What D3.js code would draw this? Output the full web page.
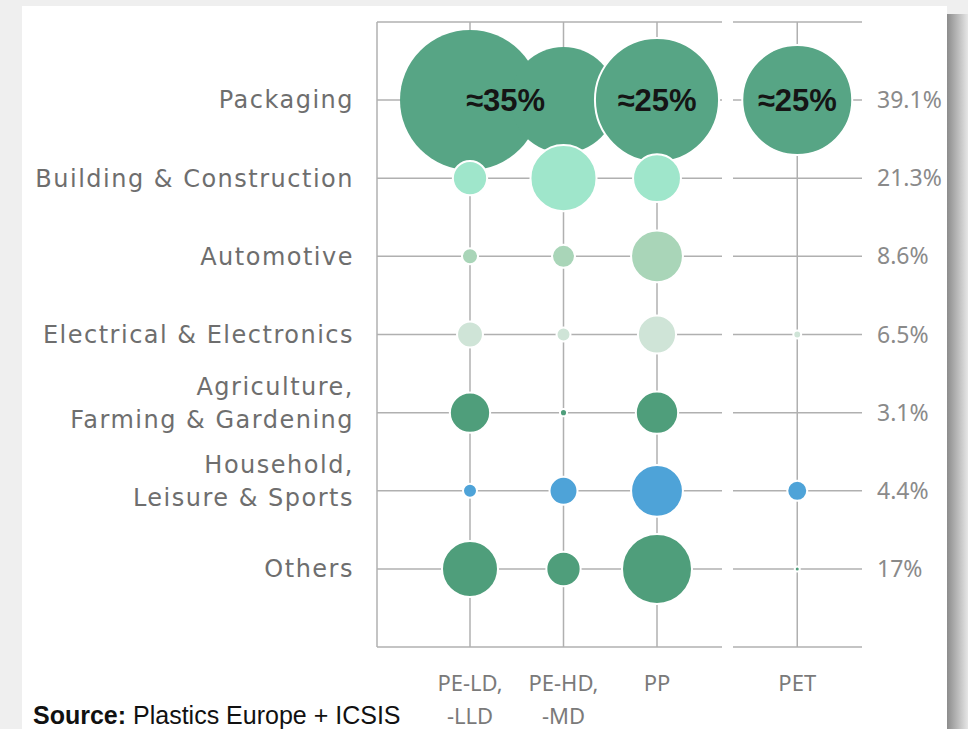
<!DOCTYPE html>
<html>
<head>
<meta charset="utf-8">
<script src="https://cdn.jsdelivr.net/npm/d3@7"></script>
<style>
  html, body { margin: 0; padding: 0; background: #efefef; }
  svg { display: block; }
</style>
</head>
<body>
<div id="container"></div>
<script>
// sectors (rows) and polymers (columns)
const sectors = [
    ['Packaging'],
    ['Building & Construction'],
    ['Automotive'],
    ['Electrical & Electronics'],
    ['Agriculture,', 'Farming & Gardening'],
    ['Household,', 'Leisure & Sports'],
    ['Others']
];
const sectorShares = ['39.1%', '21.3%', '8.6%', '6.5%', '3.1%', '4.4%', '17%'];
const sectorColors = ['#57a585', '#9fe6cb', '#a9d5b8', '#cfe4d7', '#4f9e7b', '#4ea3d8', '#4f9e7b'];

const polymers = [['PE-LD,', '-LLD'], ['PE-HD,', '-MD'], ['PP'], ['PET']];
const polymerSlot = [0, 1, 2, 3.5];

// bubble size per sector (rows) x polymer (cols)
const demand = [
    [35, 20, 27.5, 21.6],
    [2.1, 7.8, 4.1, 0],
    [0.46, 0.94, 4.8, 0],
    [1.2, 0.35, 2.6, 0.11],
    [2.9, 0.09, 3.2, 0],
    [0.35, 1.4, 4.8, 0.71],
    [5.6, 2.1, 8.75, 0.045]
];

// callouts on the packaging bubbles
const callouts = [
    { text: '\u224835%', slot: 0.38 },
    { text: '\u224825%', slot: 2 },
    { text: '\u224825%', slot: 3.5 }
];

const width = 968;
const height = 729;

const svg = d3.select('#container').append('svg')
    .attr('width', width)
    .attr('height', height);

// background card + shadow
const defs = svg.append('defs');
const shadow = defs.append('linearGradient').attr('id', 'shadow');
shadow.append('stop').attr('offset', '0%').attr('stop-color', '#8c8c8c');
shadow.append('stop').attr('offset', '100%').attr('stop-color', '#e6e6e6');

svg.append('rect').attr('x', 0).attr('y', 0).attr('width', width).attr('height', height).attr('fill', '#efefef');
svg.append('rect').attr('x', 947).attr('y', 14).attr('width', 21).attr('height', height).attr('fill', 'url(#shadow)');
svg.append('rect').attr('x', 22).attr('y', 6).attr('width', 925).attr('height', height).attr('fill', '#fff');

const x = d3.scaleLinear().domain([0, 1]).range([470, 563.5]);
const y = d3.scalePoint().domain(d3.range(sectors.length)).range([100, 569]);
const r = d3.scaleSqrt().domain([0, 35]).range([0, 70]);

const gridTop = 22, gridBottom = 647;
const panels = [[377, 722], [733, 862]];

// grid
const grid = svg.append('g').attr('stroke', '#b0b0b0').attr('stroke-width', 1.5);
panels.forEach(([a, b]) => {
    [gridTop, gridBottom].concat(y.domain().map(y)).forEach(yy => {
        grid.append('line').attr('x1', a).attr('x2', b).attr('y1', yy).attr('y2', yy);
    });
});
[377].concat(polymerSlot.map(x)).forEach(xx => {
    grid.append('line').attr('x1', xx).attr('x2', xx).attr('y1', gridTop).attr('y2', gridBottom);
});

// bubbles
const cells = [];
demand.forEach((row, i) => row.forEach((v, j) => {
    if (v > 0) cells.push({ row: i, col: j, value: v });
}));

svg.append('g')
    .selectAll('circle')
    .data(cells)
    .enter().append('circle')
    .attr('cx', d => x(polymerSlot[d.col]))
    .attr('cy', d => y(d.row))
    .attr('r', d => r(d.value))
    .attr('fill', d => sectorColors[d.row])
    .attr('stroke', d => d.row === 0 && d.col < 2 ? 'none' : '#fff')
    .attr('stroke-width', 2);

svg.append('g')
    .selectAll('text')
    .data(callouts)
    .enter().append('text')
    .attr('x', d => x(d.slot))
    .attr('y', y(0))
    .attr('dy', '0.36em')
    .attr('text-anchor', 'middle')
    .attr('font-family', 'Liberation Sans, Arial, sans-serif')
    .attr('font-size', 31)
    .attr('font-weight', 'bold')
    .attr('fill', '#151515')
    .text(d => d.text);

// sector labels
const labels = svg.append('g')
    .attr('font-family', 'DejaVu Sans, sans-serif')
    .attr('font-size', 24)
    .attr('letter-spacing', 1.5)
    .attr('fill', '#6e6e6e')
    .attr('text-anchor', 'end');
sectors.forEach((lines, i) => {
    const t = labels.append('text').attr('x', 354).attr('y', y(i));
    if (lines.length === 1) {
        t.attr('dy', '0.35em').text(lines[0]);
    } else {
        t.append('tspan').attr('x', 354).attr('dy', '-0.75em').text(lines[0]);
        t.append('tspan').attr('x', 354).attr('dy', '1.4em').text(lines[1]);
    }
});

// share labels on the right
svg.append('g')
    .attr('font-family', 'Noto Sans, sans-serif')
    .attr('font-size', 23)
    .attr('fill', '#8a8a8a')
    .selectAll('text')
    .data(sectorShares)
    .enter().append('text')
    .attr('x', 877)
    .attr('y', (d, i) => y(i))
    .attr('dy', '0.35em')
    .text(d => d);

// polymer labels
const plabels = svg.append('g')
    .attr('font-family', 'Noto Sans, sans-serif')
    .attr('font-size', 22)
    .attr('fill', '#7a7a7a')
    .attr('text-anchor', 'middle');
polymers.forEach((lines, j) => {
    lines.forEach((s, k) => {
        plabels.append('text')
            .attr('x', x(polymerSlot[j]))
            .attr('y', 691 + k * 33)
            .text(s);
    });
});

// source
const src = svg.append('text')
    .attr('x', 33)
    .attr('y', 724)
    .attr('font-family', 'Liberation Sans, Arial, sans-serif')
    .attr('font-size', 25)
    .attr('fill', '#111');
src.append('tspan').attr('font-weight', 'bold').text('Source:');
src.append('tspan').text(' Plastics Europe + ICSIS');
</script>
</body>
</html>
